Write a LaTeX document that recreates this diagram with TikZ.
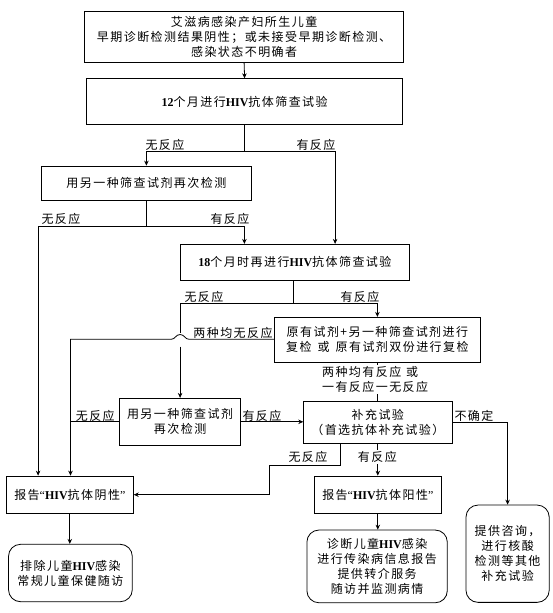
\documentclass[tikz,border=0pt]{standalone}
\usepackage{fontspec}
\setmainfont{Noto Sans CJK SC}[LetterSpace=12]
\newfontfamily\tnr{Liberation Serif}
\newcommand\en[1]{{\tnr\bfseries #1}}
\newcommand\qo{{\tnr “}}
\newcommand\qc{{\tnr ”}}
\usetikzlibrary{arrows.meta,calc}
\begin{document}
\begin{tikzpicture}[x=1pt,y=-1pt,
  font=\fontsize{12}{15}\selectfont,
  line width=0.8pt,
  box/.style={draw, rectangle, inner sep=0pt, align=center},
  rbox/.style={box, rounded corners=12pt},
  lbl/.style={inner sep=0pt, anchor=center},
  wlbl/.style={lbl, fill=white, inner ysep=1.5pt},
  arr/.style={-{Stealth[length=5pt,width=4.5pt]}}]
\useasboundingbox (0,0) rectangle (553,613);

% junction coordinates
\coordinate (j1) at (244.4,151.6);
\coordinate (j2) at (146.4,226.3);
\coordinate (j3) at (293.5,303.3);
\coordinate (j3l) at (180.1,303.3);
\coordinate (hopt) at (180.1,333);
\coordinate (hopb) at (180.1,346.5);
\coordinate (h1) at (70.5,339.3);
\coordinate (k1) at (340.4,465);
\coordinate (k2) at (269.8,465);

% boxes
\node[box, minimum width=318.8pt, minimum height=50.6pt] (b1) at (244.1,37)
  {艾滋病感染产妇所生儿童\\早期诊断检测结果阴性；或未接受早期诊断检测、\\感染状态不明确者};
\node[box, minimum width=315.7pt, minimum height=45.6pt] (b2) at (244.6,101.5)
  {\en{12}个月进行\en{HIV}抗体筛查试验};
\node[box, minimum width=210.2pt, minimum height=34.3pt] (b3) at (146.4,183.2)
  {用另一种筛查试剂再次检测};
\node[box, minimum width=229.3pt, minimum height=36pt] (b4) at (294.9,262.3)
  {\en{18}个月时再进行\en{HIV}抗体筛查试验};
\node[box, minimum width=206pt, minimum height=45pt] (b5) at (377.4,339.8)
  {原有试剂+另一种筛查试剂进行\\复检\hspace{0.5em}或\hspace{0.5em}原有试剂双份进行复检};
\node[box, minimum width=121pt, minimum height=47pt] (b6) at (180.1,421.8)
  {用另一种筛查试剂\\再次检测};
\node[box, minimum width=148.2pt, minimum height=42pt] (b7) at (377.8,422.3)
  {补充试验\\（首选抗体补充试验）};
\node[box, minimum width=127pt, minimum height=37.3pt] (neg) at (69.8,494.7)
  {报告\qo\en{HIV}抗体阴性\qc};
\node[box, minimum width=127pt, minimum height=37.3pt] (pos) at (377.8,494.7)
  {报告\qo\en{HIV}抗体阳性\qc};
\node[rbox, minimum width=123.8pt, minimum height=57.4pt] (r1) at (70.4,573)
  {排除儿童\en{HIV}感染\\常规儿童保健随访};
\node[rbox, minimum width=140.4pt, minimum height=72.7pt] (r2) at (377.1,566.4)
  {诊断儿童\en{HIV}感染\\进行传染病信息报告\\提供转介服务\\随访并监测病情};
\node[rbox, minimum width=83.2pt, minimum height=97.3pt] (r3) at (507.6,553.7)
  {提供咨询，\\进行核酸\\检测等其他\\补充试验};

% connectors
\draw[arr] (b1.south) -- (b2.north);
\draw (b2.south) -- (j1);
\draw[arr] (j1) -| (b3.north);
\draw[arr] (j1) -| ([xshift=40.2pt]b4.north);
\draw (b3.south) -- (j2);
\draw[arr] (j2) -| ([xshift=-31.7pt]neg.north);
\draw[arr] (j2) -| ([xshift=-50.5pt]b4.north);
\draw ([xshift=-1.4pt]b4.south) -- (j3);
\draw[arr] (j3) -| (b5.north);
\draw (j3) -- (j3l) -- (hopt);
\draw[arr] (hopb) -- (b6.north);
\draw[arr] (b5.west |- h1) -- (189,339.3)
  .. controls (185,339.3) and (184.5,334.5) .. (180.1,334.5)
  .. controls (175.7,334.5) and (175.2,339.3) .. (171.2,339.3)
  -- (h1) -- (neg.north -| h1);
\draw (b6.west) -- (b6.west -| h1);
\draw[arr] (b6.east) -- (b6.east -| b7.west);
\draw (b5.south) -- (b5.south |- b7.north);
\draw[arr] (b7.east) -| (r3.north);
\draw[arr] (b7.south -| k1) -- (k1) -- (k2) |- (neg.east);
\draw[arr] (b7.south) -- (pos.north);
\draw[arr] (neg.south) -- (neg.south |- r1.north);
\draw[arr] (pos.south) -- (pos.south |- r2.north);

% labels
\node[lbl] (l1) at (165,145) {无反应};
\node[lbl] (l2) at (316,145) {有反应};
\node[lbl] (l3) at (61,219) {无反应};
\node[lbl] (l4) at (230,219) {有反应};
\node[lbl] (l5) at (204,297) {无反应};
\node[lbl] (l6) at (360,297) {有反应};
\node[lbl] (l7) at (233,333.3) {两种均无反应};
\node[wlbl, anchor=west, align=left] (l8) at (321.7,379.8)
  {两种均有反应\hspace{0.4em}或\\一有反应一无反应};
\node[lbl] (l10) at (95.3,416) {无反应};
\node[lbl] (l11) at (262,416) {有反应};
\node[lbl] (l12) at (474,416) {不确定};
\node[lbl] (l13) at (308,457.3) {无反应};
\node[wlbl] (l14) at (377.4,457.3) {有反应};
\end{tikzpicture}
\end{document}
